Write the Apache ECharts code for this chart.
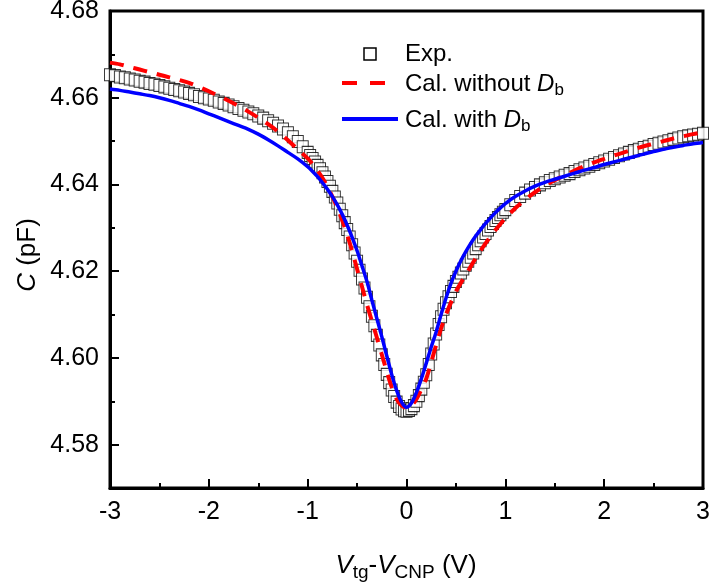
<!DOCTYPE html>
<html><head><meta charset="utf-8">
<script src="https://cdn.jsdelivr.net/npm/echarts@6/dist/echarts.min.js"></script>
<style>html,body{margin:0;padding:0;background:#fff}#c{width:709px;height:586px}</style>
</head><body><div id="c"></div><script>
const FONT = "'Liberation Sans', Arial, sans-serif";

// Experimental points (V, pF)
const expX = [-3.00,-2.95,-2.90,-2.85,-2.80,-2.75,-2.70,-2.65,-2.60,-2.55,-2.50,-2.45,-2.40,-2.35,-2.30,-2.25,-2.20,-2.15,-2.10,-2.05,
-2.00,-1.95,-1.90,-1.85,-1.80,-1.75,-1.70,-1.65,-1.60,-1.55,-1.50,-1.45,-1.40,-1.35,-1.30,-1.25,-1.20,-1.15,-1.10,-1.05,-1.00,
-0.975,-0.950,-0.925,-0.900,-0.875,-0.850,-0.825,-0.800,-0.775,-0.750,-0.725,-0.700,-0.675,-0.650,-0.625,-0.600,-0.575,-0.550,-0.525,
-0.500,-0.475,-0.450,-0.425,-0.400,-0.375,-0.350,-0.325,-0.300,-0.275,-0.250,-0.225,-0.200,-0.175,-0.150,-0.125,-0.100,-0.075,-0.050,-0.025,
0.000,0.025,0.050,0.075,0.100,0.125,0.150,0.175,0.200,0.225,0.250,0.275,0.300,0.325,0.350,0.375,0.400,0.425,0.450,0.475,
0.500,0.525,0.550,0.575,0.600,0.625,0.650,0.675,0.700,0.725,0.750,0.775,0.800,0.825,0.850,0.875,0.900,0.925,0.950,0.975,
1.00,1.05,1.10,1.15,1.20,1.25,1.30,1.35,1.40,1.45,1.50,1.55,1.60,1.65,1.70,1.75,1.80,1.85,1.90,1.95,
2.00,2.05,2.10,2.15,2.20,2.25,2.30,2.35,2.40,2.45,2.50,2.55,2.60,2.65,2.70,2.75,2.80,2.85,2.90,2.95,3.00];
const expY = [4.6653,4.6651,4.6648,4.6646,4.6643,4.6641,4.6638,4.6636,4.6633,4.6631,4.6628,4.6625,4.6622,4.6619,4.6616,4.6613,4.6610,4.6607,4.6603,4.6600,
4.6597,4.6594,4.6590,4.6587,4.6583,4.6579,4.6575,4.6571,4.6567,4.6563,4.6558,4.6553,4.6547,4.6541,4.6535,4.6528,4.6519,4.6510,4.6499,4.6487,4.6474,
4.6467,4.6460,4.6452,4.6444,4.6436,4.6427,4.6417,4.6407,4.6396,4.6384,4.6371,4.6357,4.6343,4.6328,4.6312,4.6296,4.6279,4.6261,4.6242,
4.6223,4.6202,4.6182,4.6161,4.6140,4.6118,4.6096,4.6074,4.6052,4.6030,4.6007,4.5985,4.5962,4.5943,4.5926,4.5911,4.5898,4.5888,4.5882,4.5878,
4.5877,4.5879,4.5883,4.5890,4.5900,4.5913,4.5928,4.5944,4.5961,4.5985,4.6009,4.6032,4.6055,4.6077,4.6095,4.6112,4.6127,4.6141,4.6153,4.6165,
4.6176,4.6186,4.6196,4.6205,4.6214,4.6223,4.6232,4.6242,4.6252,4.6261,4.6270,4.6279,4.6287,4.6295,4.6303,4.6310,4.6317,4.6324,4.6330,4.6336,
4.6342,4.6353,4.6363,4.6372,4.6380,4.6387,4.6393,4.6399,4.6404,4.6409,4.6413,4.6417,4.6421,4.6425,4.6430,4.6434,4.6438,4.6442,4.6446,4.6450,
4.6454,4.6458,4.6462,4.6466,4.6470,4.6474,4.6478,4.6481,4.6485,4.6488,4.6492,4.6495,4.6498,4.6501,4.6504,4.6507,4.6510,4.6512,4.6514,4.6516,4.6518];

// Calculated curves share one x grid
const lineX = [-3.0,-2.9,-2.8,-2.7,-2.6,-2.5,-2.4,-2.3,-2.2,-2.1,-2.0,-1.9,-1.8,-1.7,-1.6,-1.5,-1.4,-1.3,-1.2,-1.1,-1.0,
-0.95,-0.90,-0.85,-0.80,-0.75,-0.70,-0.65,-0.60,-0.55,-0.50,-0.45,-0.40,-0.35,-0.30,-0.25,-0.20,-0.15,-0.10,-0.05,
0.00,0.05,0.10,0.15,0.20,0.25,0.30,0.35,0.40,0.45,0.50,0.55,0.60,0.65,0.70,0.75,0.80,0.85,0.90,0.95,
1.0,1.1,1.2,1.3,1.4,1.5,1.6,1.7,1.8,1.9,2.0,2.1,2.2,2.3,2.4,2.5,2.6,2.7,2.8,2.9,3.0];
const calNoDb = [4.6681,4.6677,4.6671,4.6665,4.6659,4.6653,4.6647,4.6641,4.6634,4.6625,4.6615,4.6604,4.6593,4.6581,4.6568,4.6554,4.6539,4.6522,4.6502,4.6481,4.6460,
4.6447,4.6432,4.6415,4.6395,4.6372,4.6347,4.6317,4.6284,4.6246,4.6205,4.6164,4.6123,4.6085,4.6047,4.6008,4.5969,4.5933,4.5905,4.5890,
4.5885,4.5890,4.5905,4.5927,4.5952,4.5990,4.6030,4.6068,4.6100,4.6128,4.6153,4.6173,4.6191,4.6211,4.6230,4.6248,4.6264,4.6280,4.6295,4.6309,
4.6322,4.6345,4.6365,4.6382,4.6397,4.6410,4.6421,4.6432,4.6442,4.6451,4.6459,4.6467,4.6474,4.6481,4.6488,4.6494,4.6500,4.6506,4.6511,4.6516,4.6520];
const calWithDb = [4.6620,4.6617,4.6613,4.6609,4.6605,4.6600,4.6594,4.6587,4.6580,4.6572,4.6563,4.6554,4.6545,4.6536,4.6527,4.6516,4.6503,4.6489,4.6474,4.6459,4.6441,
4.6430,4.6418,4.6404,4.6389,4.6372,4.6353,4.6331,4.6306,4.6278,4.6247,4.6212,4.6176,4.6133,4.6091,4.6049,4.6005,4.5962,4.5925,4.5898,
4.5886,4.5896,4.5920,4.5952,4.5988,4.6025,4.6060,4.6100,4.6138,4.6172,4.6200,4.6224,4.6245,4.6264,4.6281,4.6296,4.6310,4.6323,4.6335,4.6346,
4.6356,4.6372,4.6385,4.6396,4.6405,4.6412,4.6419,4.6426,4.6433,4.6439,4.6446,4.6452,4.6458,4.6464,4.6470,4.6476,4.6481,4.6486,4.6490,4.6494,4.6497];

const yMajorTicks = [4.58,4.60,4.62,4.64,4.66,4.68];
const yMinorTicks = [4.59,4.61,4.63,4.65,4.67];

const zip = (xs, ys) => xs.map((x, i) => [x, ys[i]]);
const chart = echarts.init(document.getElementById('c'), null, {renderer:'canvas'});
const richBase = {
  i: {fontStyle:'italic', fontSize:24, fontFamily:FONT, lineHeight:30},
  n: {fontSize:24, fontFamily:FONT, lineHeight:30},
  sub: {fontSize:17, fontFamily:FONT, verticalAlign:'bottom', lineHeight:15}
};
const richTitle = {
  i: {fontStyle:'italic', fontSize:26, fontFamily:FONT, lineHeight:32},
  n: {fontSize:26, fontFamily:FONT, lineHeight:32},
  sub: {fontSize:19, fontFamily:FONT, verticalAlign:'bottom', lineHeight:16}
};
chart.setOption({
  animation:false,
  backgroundColor:'#fff',
  grid:{left:110, right:6, top:11, bottom:98, show:true, borderColor:'#000', borderWidth:3, containLabel:false, outerBoundsMode:'none'},
  xAxis:{type:'value', min:-3, max:3, interval:1,
    axisLine:{onZero:false, lineStyle:{color:'#000', width:3}},
    axisTick:{inside:true, length:9, lineStyle:{width:2, color:'#000'}},
    minorTick:{show:true, splitNumber:2, length:5, lineStyle:{width:2, color:'#000'}},
    splitLine:{show:false},
    axisLabel:{fontSize:25, color:'#000', fontFamily:FONT, margin:12}},
  yAxis:[{type:'value', min:4.57, max:4.68,
    axisLine:{show:true, onZero:false, lineStyle:{color:'#000', width:3}},
    axisTick:{show:true, inside:true, length:9, customValues:yMajorTicks, lineStyle:{width:2, color:'#000'}},
    axisLabel:{customValues:yMajorTicks, formatter:v => v.toFixed(2), fontSize:25, color:'#000', fontFamily:FONT, margin:11},
    splitLine:{show:false}},
   {type:'value', min:4.57, max:4.68, position:'left', offset:0,
    axisLine:{show:false, onZero:false},
    axisTick:{show:true, inside:true, length:5, customValues:yMinorTicks, lineStyle:{width:2, color:'#000'}},
    axisLabel:{show:false}, splitLine:{show:false}}],
  series:[
    {name:'Exp.', type:'scatter', data:zip(expX, expY), symbol:'rect', symbolSize:[11,12],
     itemStyle:{color:'#fff', borderColor:'#000', borderWidth:1}, z:2, clip:true},
    {name:'Cal. without Db', type:'line', data:zip(lineX, calNoDb), showSymbol:false, symbol:'none', smooth:0.3,
     lineStyle:{color:'#ff0000', width:4, type:[14,10]}, z:3},
    {name:'Cal. with Db', type:'line', data:zip(lineX, calWithDb), showSymbol:false, symbol:'none', smooth:0.3,
     lineStyle:{color:'#0000ff', width:3.5}, z:4}
  ],
  graphic:[
    {type:'rect', shape:{x:364, y:48, width:12, height:12}, style:{fill:'#fff', stroke:'#000', lineWidth:1.5}, z:10},
    {type:'text', x:405, y:54, style:{text:'{n|Exp.}', rich:richBase, fill:'#000', textAlign:'left', textVerticalAlign:'middle'}, z:10},
    {type:'line', shape:{x1:342, y1:83, x2:398, y2:83}, style:{stroke:'#ff0000', lineWidth:4, lineDash:[15,13]}, z:10},
    {type:'text', x:405, y:84, style:{text:'{n|Cal. without }{i|D}{sub|b}', rich:richBase, fill:'#000', textAlign:'left', textVerticalAlign:'middle'}, z:10},
    {type:'line', shape:{x1:342, y1:119, x2:398, y2:119}, style:{stroke:'#0000ff', lineWidth:4}, z:10},
    {type:'text', x:405, y:120, style:{text:'{n|Cal. with }{i|D}{sub|b}', rich:richBase, fill:'#000', textAlign:'left', textVerticalAlign:'middle'}, z:10},
    {type:'text', x:406, y:566, style:{text:'{i|V}{sub|tg}{n|-}{i|V}{sub|CNP}{n| (V)}', rich:richTitle, fill:'#000', textAlign:'center', textVerticalAlign:'middle'}, z:10},
    {type:'text', x:28, y:255, rotation:Math.PI/2, style:{text:'{i|C}{n| (pF)}', rich:richTitle, fill:'#000', textAlign:'center', textVerticalAlign:'middle'}, z:10}
  ]
});
</script></body></html>
